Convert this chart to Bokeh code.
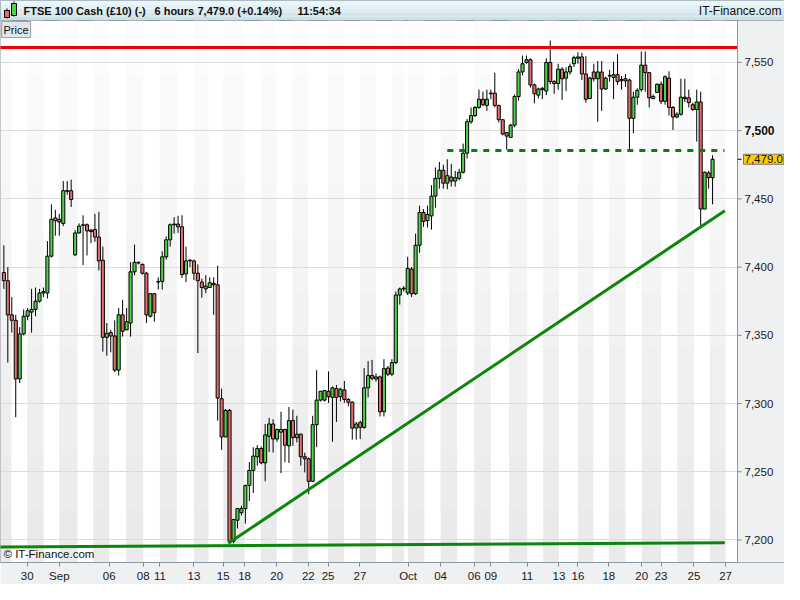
import numpy as np
from bokeh.plotting import figure
from bokeh.models import (FixedTicker, CustomJSTickFormatter, Label, ColumnDataSource, Range1d)
from bokeh.layouts import column
from bokeh.embed import file_html
from bokeh.resources import INLINE
from bokeh.core.properties import value

# ---------------- data (6-hour candles, FTSE 100 Cash) ----------------
opens = [7396, 7390, 7365, 7361, 7318, 7351, 7364, 7367, 7369, 7375,
         7381, 7381, 7408, 7436, 7435, 7432, 7456, 7456, 7409, 7425,
         7430.5, 7431, 7427, 7427.5, 7422, 7405, 7348.5, 7352, 7349.5, 7324.5,
         7365, 7354, 7359, 7396.5, 7403.5, 7402, 7395.5, 7364, 7380.5, 7389,
         7389.5, 7407.5, 7420, 7431, 7431.5, 7429.5, 7395, 7405, 7404.5, 7395.5,
         7389, 7384, 7385, 7388, 7387, 7303.5, 7275.5, 7295, 7199, 7214.5,
         7220, 7223, 7240, 7251, 7261, 7267, 7256.5, 7276, 7285, 7274,
         7279, 7281, 7269, 7287.5, 7275, 7277.5, 7261, 7259.5, 7243, 7284.5,
         7302.5, 7302.5, 7309, 7304.5, 7311, 7305, 7310, 7303, 7301, 7282,
         7286, 7282.5, 7311.5, 7320.5, 7318, 7319.5, 7294, 7326, 7321.5, 7330,
         7379.5, 7384, 7381, 7398.5, 7380.5, 7416, 7440, 7434, 7437.5, 7452,
         7465, 7471, 7461.5, 7466, 7463, 7465, 7469.5, 7483.5, 7506.5, 7511,
         7517, 7523, 7518.5, 7527, 7527.5, 7518.5, 7508, 7498.5, 7495, 7504,
         7525, 7543, 7550, 7552, 7533.5, 7526, 7530, 7529, 7550, 7536,
         7534.5, 7545, 7538.5, 7543, 7549, 7553, 7554, 7541.5, 7523.5, 7543,
         7538, 7543, 7530.5, 7540.5, 7539, 7541, 7537.5, 7536.5, 7537, 7509,
         7524.5, 7530, 7548, 7542.5, 7523.5, 7528, 7534, 7521.5, 7538.5, 7517,
         7510, 7512, 7524.5, 7524, 7519, 7515.5, 7521, 7442.5, 7469, 7465.5]
highs = [7416, 7400, 7378, 7365, 7356, 7369, 7370, 7384, 7385, 7384,
         7385, 7419, 7446, 7442, 7439, 7463, 7463, 7464, 7427, 7432,
         7438, 7432, 7428, 7439, 7440.5, 7415, 7359, 7354, 7361, 7370,
         7376, 7370, 7403.5, 7416.5, 7404, 7402.5, 7396.5, 7381, 7381, 7392.5,
         7411.5, 7422.5, 7432, 7436.5, 7437.5, 7438, 7415, 7406, 7405.5, 7402,
         7391.5, 7394, 7392.5, 7392.5, 7401, 7311, 7296, 7296, 7215.5, 7223.5,
         7225, 7240.5, 7257, 7268, 7269.5, 7268.5, 7285, 7289.5, 7288.5, 7281.5,
         7294, 7281.5, 7297.5, 7295.5, 7291, 7278, 7264, 7260.5, 7291, 7324.5,
         7309, 7310, 7323.5, 7312.5, 7313.5, 7311.5, 7316.5, 7304, 7301.5, 7286.5,
         7287.5, 7326, 7331, 7332, 7322, 7320.5, 7332.5, 7327.5, 7332.5, 7382,
         7385, 7386, 7407.5, 7400, 7424.5, 7445, 7442.5, 7445, 7460, 7473,
         7477, 7475, 7479, 7475.5, 7470.5, 7472, 7490.5, 7508.5, 7517, 7518,
         7530, 7528.5, 7530, 7530, 7542.5, 7519, 7508.5, 7499, 7505, 7526.5,
         7545, 7555, 7555, 7553, 7534.5, 7531.5, 7532, 7553, 7566, 7537,
         7549, 7546.5, 7546.5, 7549, 7555, 7557.5, 7557, 7554.5, 7539.5, 7549,
         7551, 7551, 7539.5, 7544.5, 7550.5, 7556, 7540, 7541.5, 7538, 7528.5,
         7531, 7558, 7558, 7543, 7526.5, 7534.5, 7536, 7540.5, 7543.5, 7518,
         7513.5, 7538, 7538, 7530, 7520.5, 7530, 7528.5, 7470, 7470.5, 7482]
lows = [7384, 7330, 7352, 7290, 7315, 7350, 7361, 7352, 7364, 7374,
        7378, 7377, 7407, 7423, 7423, 7430, 7453, 7444, 7408, 7424.5,
        7401.5, 7408.5, 7417.5, 7418.5, 7397.5, 7338, 7335, 7337.5, 7323, 7320.5,
        7349, 7354, 7349, 7394, 7402, 7394.5, 7359, 7363, 7360, 7383.5,
        7383.5, 7405.5, 7415, 7424.5, 7425, 7392, 7389, 7400, 7390.5, 7337,
        7377.5, 7381, 7385, 7365, 7287.5, 7266, 7275.5, 7197.5, 7197.5, 7208.5,
        7218, 7212, 7228.5, 7234.5, 7254.5, 7255.5, 7243, 7264.5, 7264, 7272,
        7249, 7257, 7256.5, 7269, 7271.5, 7254.5, 7249.5, 7233.5, 7242.5, 7268,
        7301.5, 7301.5, 7300.5, 7272, 7286.5, 7301.5, 7300.5, 7298, 7273.5, 7273.5,
        7274, 7281.5, 7304.5, 7317, 7316, 7290.5, 7290.5, 7320, 7320, 7329,
        7372.5, 7382, 7379.5, 7378, 7379.5, 7410.5, 7429.5, 7429, 7427.5, 7443.5,
        7457.5, 7457.5, 7457, 7459, 7459, 7463.5, 7468.5, 7479.5, 7505, 7510,
        7516, 7518, 7514.5, 7523, 7517, 7506, 7496.5, 7486, 7495, 7502.5,
        7522, 7540.5, 7549, 7531.5, 7520, 7523.5, 7523, 7526, 7534, 7527,
        7530, 7522.5, 7529, 7541, 7546.5, 7549, 7537, 7520.5, 7523, 7536,
        7506.5, 7514.5, 7530, 7536, 7523, 7533.5, 7530, 7532, 7486, 7498,
        7519, 7528.5, 7528.5, 7517, 7523, 7527.5, 7519.5, 7519, 7511, 7500.5,
        7509, 7511, 7521, 7517, 7514.5, 7492, 7430.5, 7442.5, 7457.5, 7446]
closes = [7390, 7365, 7361, 7318, 7351, 7364, 7368, 7369, 7375, 7381,
          7382, 7408, 7435, 7434, 7433, 7456, 7455.5, 7449.5, 7425, 7430,
          7431, 7426.5, 7426, 7422, 7404.5, 7348.5, 7351.5, 7349.5, 7324.5, 7365,
          7353, 7360, 7396.5, 7403.5, 7403, 7395.5, 7365, 7380.5, 7366.5, 7389.5,
          7407.5, 7420, 7431, 7431.5, 7429.5, 7394.5, 7404.5, 7404.5, 7395.5, 7390,
          7385, 7386, 7388.5, 7387, 7304, 7275.5, 7295, 7199, 7215, 7223,
          7223, 7240, 7251, 7261.5, 7267, 7256.5, 7277, 7285, 7274, 7281,
          7281, 7269.5, 7287.5, 7275, 7277.5, 7261, 7259.5, 7243, 7284.5, 7302.5,
          7309, 7309.5, 7305, 7311.5, 7304.5, 7310.5, 7303, 7301, 7282, 7285,
          7282.5, 7311.5, 7320.5, 7318.5, 7319.5, 7294, 7325.5, 7321.5, 7330, 7379.5,
          7384, 7384.5, 7399, 7380.5, 7416, 7440, 7433.5, 7438.5, 7452, 7465,
          7471, 7461.5, 7467, 7463, 7465.5, 7469.5, 7483.5, 7506.5, 7511, 7517,
          7523, 7519, 7523, 7527.5, 7518.5, 7508, 7497.5, 7496, 7504, 7525,
          7543, 7549, 7552, 7533.5, 7527, 7530.5, 7531, 7550, 7536, 7534.5,
          7545, 7538, 7543, 7547, 7553.5, 7554, 7541.5, 7523, 7538.5, 7538,
          7543, 7530.5, 7538.5, 7540, 7541, 7536, 7536.5, 7538, 7509, 7524.5,
          7529.5, 7548, 7542.5, 7524, 7525, 7534, 7521.5, 7539.5, 7517, 7510,
          7512, 7524.5, 7523.5, 7520.5, 7515.5, 7521, 7442.5, 7469.5, 7465.5, 7479.0]

# date ticks (candle-index positions) and their labels
x_tick_pos = [5.9, 14.0, 26.6, 35.2, 39.4, 48.0, 55.4, 60.8, 68.9, 76.9, 81.9, 89.95,
              102.1, 110.3, 118.8, 123.0, 132.2, 140.2, 145.0, 152.8, 161.1, 166.0, 174.3, 182.3]
x_tick_lab = ["30", "Sep", "06", "08", "11", "13", "15", "18", "20", "22", "25", "27",
              "Oct", "04", "06", "09", "11", "13", "16", "18", "20", "23", "25", "27"]
# session boundaries (candle-index), for the alternating day shading
day_starts = [-2.1, 1.9, 5.9, 10.0, 14.0, 18.6, 22.6, 26.6, 30.9, 35.2, 39.4, 43.7, 48.0,
              51.7, 55.4, 60.8, 64.9, 68.9, 72.9, 76.9, 81.9, 85.9, 89.95, 94.0, 98.0,
              101.1, 102.1, 106.2, 110.3, 114.5, 118.8, 123.0, 127.6, 132.2, 136.2, 140.2,
              145.0, 148.9, 152.8, 157.0, 161.1, 166.0, 170.1, 174.3, 178.3, 182.3, 186.3]

y_ticks = [7200, 7250, 7300, 7350, 7400, 7450, 7500, 7550]
bold_y = [7500]
last_price = 7479.0

# drawn lines
res_x = [-1.0, 185.3]
res_y = [7561.0, 7561.0]
level_x = [112.0, 182.0]
level_y = [7485.4, 7485.4]
trend_x = [56.7, 182.1]
trend_y = [7197.6, 7441.2]
base_x = [-1.1, 182.1]
base_y = [7194.8, 7198.0]

# ---------------- styling ----------------
FONT = "Liberation Sans"
GREEN = "#4fd34f"
RED = "#e36d6d"
AXIS_GRAY = "#8c98a2"
PANEL = "#eef0f2"
W, H_HEAD, H_MAIN = 784, 20, 564
CHART_PX = 737                      # width of the candle area in pixels
X0, X_AX = -0.85, 185.3             # candle area (index units)
PXU = CHART_PX / (X_AX - X0)        # pixels per index unit
X_END = X0 + W / PXU                # frame also hosts the price scale strip
Y0, Y1 = 7183.5, 7580.7

# ---------------- header ----------------
h = figure(width=W, height=H_HEAD, x_range=Range1d(0, W), y_range=Range1d(0, H_HEAD),
           output_backend="svg", toolbar_location=None,
           x_axis_location=None, y_axis_location=None, min_border=0)
h.frame_align = False
h.xgrid.visible = False
h.ygrid.visible = False
h.outline_line_color = "#9aa6ae"
h.border_fill_color = "#d8eaf1"
grad = ["#eaf6fa", "#e2f1f6", "#dbecf2", "#d3e6ee", "#cbe0e9"]
for k, col in enumerate(grad):
    h.quad(left=[0], right=[W], top=[20 - 4 * k], bottom=[16 - 4 * k],
           fill_color=col, line_color=None)
h.segment(x0=[6.5, 13.5], y0=[2, 4], x1=[6.5, 13.5], y1=[12, 19], line_color="black")
h.quad(left=[4, 11], right=[9, 16], top=[10, 17], bottom=[3, 5],
       fill_color=[RED, GREEN], line_color="black")
for txt, xx in [("FTSE 100 Cash (£10) (-)", 23), ("6 hours", 154),
                ("7,479.0 (+0.14%)", 197), ("11:54:34", 297)]:
    h.add_layout(Label(x=xx, y=10, text=txt, text_font=FONT, text_font_style="bold",
                       text_font_size="11px", text_baseline="middle", text_color="#111111"))
h.add_layout(Label(x=W - 3, y=10, text="IT-Finance.com", text_font=FONT,
                   text_font_size="12px", text_baseline="middle", text_align="right",
                   text_color="#111111"))

# ---------------- main chart ----------------
p = figure(width=W, height=H_MAIN, x_range=Range1d(X0, X_END), y_range=Range1d(Y0, Y1),
           output_backend="svg", toolbar_location=None, y_axis_location=None,
           min_border_left=0, min_border_right=0, min_border_top=0, min_border_bottom=20)
p.frame_align = False
p.background_fill_color = "white"
p.border_fill_color = PANEL
p.outline_line_color = AXIS_GRAY
p.xgrid.visible = False
p.ygrid.ticker = FixedTicker(ticks=y_ticks)
p.ygrid.grid_line_color = "#dcdcdc"

# alternating day shading with a soft vertical gradient
gray_l = day_starts[:-1][0::2]
gray_r = day_starts[1:][0::2]
shades = ["#fcfcfc", "#fafafa", "#f8f8f8", "#f6f6f6", "#f4f4f4", "#f2f2f2",
          "#f0f0f0", "#eeeeee", "#ececec", "#eaeaea"]
edges = np.linspace(Y1, Y0, len(shades) + 1)
for k, col in enumerate(shades):
    p.quad(left=gray_l, right=gray_r, top=edges[k], bottom=edges[k + 1],
           fill_color=col, line_color=None, level="underlay")

# candles
o = np.array(opens, dtype=float)
c = np.array(closes, dtype=float)
src = ColumnDataSource(dict(
    x=np.arange(len(o)), top=np.maximum(o, c), bottom=np.minimum(o, c),
    high=highs, low=lows, color=np.where(c >= o, GREEN, RED)))
p.segment(x0="x", y0="low", x1="x", y1="high", source=src, line_color="black", line_width=1)
p.vbar(x="x", width=0.78, top="top", bottom="bottom", fill_color="color",
       line_color="black", line_width=1, source=src)

# drawn lines
p.line(res_x, res_y, line_color="#ee0000", line_width=3)
p.line(level_x, level_y, line_color="#087f08", line_width=3, line_dash="6 6")
p.line(trend_x, trend_y, line_color="#0b860b", line_width=3)
p.line(base_x, base_y, line_color="#0b860b", line_width=3)

# price scale strip (right)
p.quad(left=[X_AX], right=[X_END], bottom=[Y0], top=[Y1], fill_color=PANEL, line_color=None)
p.segment(x0=[X_AX], y0=[Y0], x1=[X_AX], y1=[Y1], line_color=AXIS_GRAY, line_width=1)
tick_len = 4 / PXU
p.segment(x0=[X_AX] * len(y_ticks), y0=y_ticks, x1=[X_AX + tick_len] * len(y_ticks), y1=y_ticks,
          line_color="#7d8890", line_width=1)
p.segment(x0=[X_AX], y0=[last_price], x1=[X_AX + tick_len], y1=[last_price],
          line_color="black", line_width=1)
plain_y = [v for v in y_ticks if v not in bold_y]
p.text(x=[X_AX] * len(plain_y), y=plain_y, text=[f"{v:,}" for v in plain_y],
       x_offset=7, text_font=value(FONT), text_font_size="11.5px",
       text_baseline="middle", text_align="left", text_color="#1a1a1a")
p.text(x=[X_AX] * len(bold_y), y=bold_y, text=[f"{v:,}" for v in bold_y],
       x_offset=7, text_font=value(FONT), text_font_size="12px", text_font_style="bold",
       text_baseline="middle", text_align="left", text_color="#111111")
p.text(x=[X_AX], y=[last_price], text=[f"{last_price:,.1f}"], x_offset=6,
       text_font=value(FONT), text_font_size="11.5px", text_baseline="middle",
       text_align="left", text_color="#111111", background_fill_color="#ffcc00",
       border_line_color="#7a7a7a", padding=1)

# x axis (bottom)
xax = p.xaxis[0]
xax.bounds = (X0, X_AX)
xax.ticker = FixedTicker(ticks=x_tick_pos)
xax.formatter = CustomJSTickFormatter(args=dict(pos=x_tick_pos, lab=x_tick_lab), code="""
    for (let k = 0; k < pos.length; k++) { if (Math.abs(pos[k] - tick) < 1e-6) return lab[k]; }
    return '';
""")
xax.major_tick_out = 4
xax.major_tick_in = 0
xax.minor_tick_line_color = None
xax.axis_line_color = AXIS_GRAY
xax.major_tick_line_color = "#7d8890"
xax.major_label_text_font = FONT
xax.major_label_text_font_size = "11.5px"
xax.major_label_text_color = "#1a1a1a"
xax.major_label_standoff = 3

# panel tag and copyright
p.add_layout(Label(x=X0, y=Y1, text="Price", text_font=FONT, text_font_size="11px",
                   text_baseline="top", x_offset=1, y_offset=-1,
                   background_fill_color="#dfe5ea", border_line_color="#98a4ad",
                   padding=2, text_color="#111111"))
p.add_layout(Label(x=X0, y=Y0, text="© IT-Finance.com", text_font=FONT, text_font_size="11.5px",
                   text_baseline="bottom", x_offset=3, y_offset=3, text_color="#111111"))

layout = column(h, p, spacing=0)
open("out.html", "w").write(file_html(layout, INLINE))
